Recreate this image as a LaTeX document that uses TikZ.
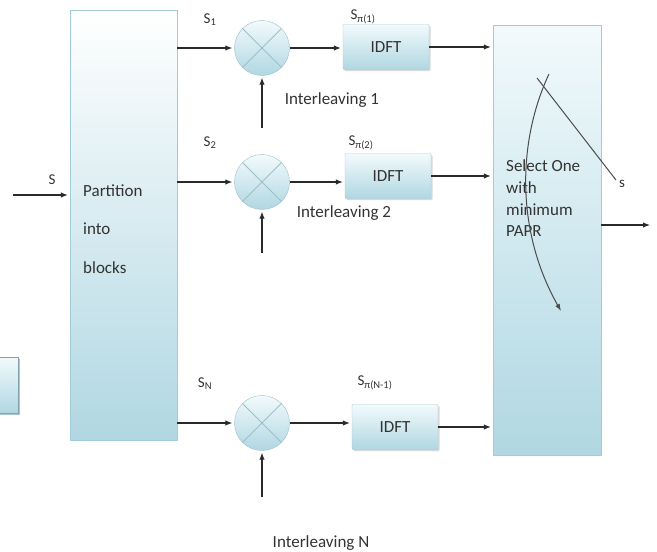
\documentclass[tikz,border=0pt]{standalone}
\usepackage{fontspec}
\setmainfont{Carlito}
\usetikzlibrary{shadows,arrows.meta}
\definecolor{boxtop}{HTML}{F2FAFC}
\definecolor{boxbot}{HTML}{B0D7E2}
\definecolor{boxline}{HTML}{A3CCD8}
\definecolor{mixline}{HTML}{9CBFC9}
\definecolor{arrowc}{HTML}{2A2A2A}
\definecolor{textc}{HTML}{333333}
\begin{document}
\begin{tikzpicture}[x=1pt,y=-1pt,
  blockbox/.style={draw=boxline,top color=boxtop,bottom color=boxbot,inner sep=0pt},
  idftbox/.style={blockbox,rounded corners=1pt,minimum width=86pt,minimum height=45pt,
    drop shadow={shadow xshift=1.5pt,shadow yshift=-1.5pt,fill=gray!50,opacity=.6},
    text=textc,font=\fontsize{17}{19}\selectfont},
  mixer/.style={circle,draw=mixline,minimum size=55pt,inner sep=0pt,
    top color=boxtop,bottom color=boxbot,
    path picture={\draw[mixline,line width=1pt]
      (path picture bounding box.north west) -- (path picture bounding box.south east)
      (path picture bounding box.south west) -- (path picture bounding box.north east);}},
  lbl/.style={text=textc,font=\fontsize{17}{19}\selectfont,inner sep=0pt},
  sublbl/.style={text=textc,font=\fontsize{15}{17}\selectfont,inner sep=0pt},
  conn/.style={draw=arrowc,line width=1.1pt,-{Latex[length=7pt,width=5.5pt]},shorten >=2pt},
  swline/.style={draw=black!70,line width=1pt}]
\useasboundingbox (0,0) rectangle (657,552);
% side box cut at the edge
\node (side) at (0,385) [blockbox,minimum width=36pt,minimum height=56pt,draw=boxline!80!black,
  drop shadow={shadow xshift=2pt,shadow yshift=-2pt,fill=boxline!90!black,opacity=.8}] {};
% partition block
\node (part) at (123.5,225) [blockbox,top color=white,middle color=boxtop!40!boxbot,bottom color=boxbot,
  minimum width=107pt,minimum height=430pt] {};
\node (part1) at (83,191) [lbl,anchor=west] {Partition};
\node (part2) at (83,229) [lbl,anchor=west] {into};
\node (part3) at (83,268) [lbl,anchor=west] {blocks};
% selection block
\node (sel) at (547,240) [blockbox,minimum width=108pt,minimum height=430pt] {};
\node (sel1) at (506,166) [lbl,anchor=west] {Select One};
\node (sel2) at (506,188) [lbl,anchor=west] {with};
\node (sel3) at (506,210) [lbl,anchor=west] {minimum};
\node (sel4) at (506,231) [lbl,anchor=west] {PAPR};
% mixers
\node (mix1) at (262,48) [mixer] {};
\node (mix2) at (262,182) [mixer] {};
\node (mix3) at (262,423) [mixer] {};
% IDFT blocks
\node (idft1) at (386,47) [idftbox] {IDFT};
\node (idft2) at (388,176) [idftbox] {IDFT};
\node (idft3) at (395,427) [idftbox] {IDFT};
% labels
\node (s0) at (52,180) [sublbl] {S};
\node (s1) at (210,20) [sublbl] {S\textsubscript{1}};
\node (s2) at (210,143) [sublbl] {S\textsubscript{2}};
\node (sn) at (205,384) [sublbl] {S\textsubscript{N}};
\node (sp1) at (363,17) [sublbl] {S\textsubscript{π(1)}};
\node (sp2) at (361,143) [sublbl] {S\textsubscript{π(2)}};
\node (sp3) at (375,383) [sublbl] {S\textsubscript{π(N-1)}};
\node (il1) at (332,100) [lbl] {Interleaving 1};
\node (il2) at (344,213) [lbl] {Interleaving 2};
\node (il3) at (321,543) [lbl] {Interleaving N};
% free ends
\coordinate (sin) at (13,195);
\coordinate (out) at (650,225);
\coordinate (lo1) at (262,128);
\coordinate (lo2) at (262,253);
\coordinate (lo3) at (262,497);
% connectors
\draw[conn] (sin) -- (sin -| part.west);
\draw[conn] (part.east |- mix1) -- (mix1.west);
\draw[conn] (part.east |- mix2) -- (mix2.west);
\draw[conn] (part.east |- mix3) -- (mix3.west);
\draw[conn] (lo1) -- (mix1.south);
\draw[conn] (lo2) -- (mix2.south);
\draw[conn] (lo3) -- (mix3.south);
\draw[conn] (mix1.east) -- (mix1 -| idft1.west);
\draw[conn] (mix2.east) -- (mix2 -| idft2.west);
\draw[conn] (mix3.east) -- (mix3 -| idft3.west);
\draw[conn] (idft1.east) -- (idft1.east -| sel.west);
\draw[conn] (idft2.east) -- (idft2.east -| sel.west);
\draw[conn] (idft3.east) -- (idft3.east -| sel.west);
\draw[conn,shorten >=0pt] (sel.east |- out) -- (out);
% switch
\coordinate (swa) at (537,78);
\coordinate (swb) at (616,180);
\coordinate (swc) at (549,74);
\coordinate (swd) at (561,311);
\draw[swline] (swa) -- (swb);
\draw[swline,-{Latex[length=7pt,width=5pt]}] (swc) .. controls (518,140) and (515,230) .. (swd);
\node (sw) at (622,184) [sublbl] {s};
\end{tikzpicture}
\end{document}
